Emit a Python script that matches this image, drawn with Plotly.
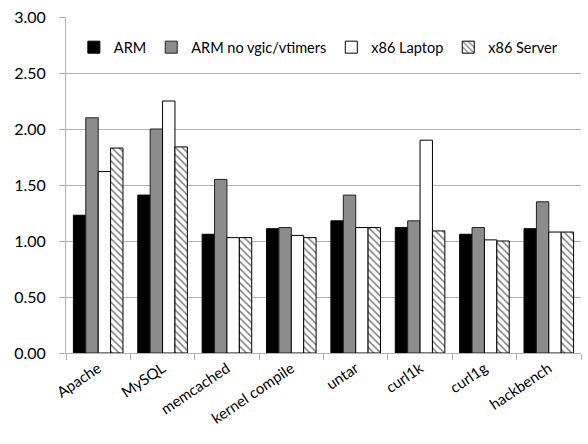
import plotly.graph_objects as go

categories = ["Apache", "MySQL", "memcached", "kernel compile", "untar", "curl1k", "curl1g", "hackbench"]
arm = [1.23, 1.41, 1.06, 1.11, 1.18, 1.12, 1.06, 1.11]
arm_no_vgic = [2.10, 2.00, 1.55, 1.12, 1.41, 1.18, 1.12, 1.35]
x86_laptop = [1.62, 2.25, 1.03, 1.05, 1.12, 1.90, 1.01, 1.08]
x86_server = [1.83, 1.84, 1.03, 1.03, 1.12, 1.09, 1.00, 1.08]
y_ticks = [0, 0.5, 1.0, 1.5, 2.0, 2.5, 3.0]

FONT = "Lato"
fig = go.Figure()
fig.add_bar(name="ARM", x=categories, y=arm,
            marker=dict(color="#000000", line=dict(color="#000000", width=1)))
fig.add_bar(name="ARM no vgic/vtimers", x=categories, y=arm_no_vgic,
            marker=dict(color="#8c8c8c", line=dict(color="#222222", width=1)))
fig.add_bar(name="x86 Laptop", x=categories, y=x86_laptop,
            marker=dict(color="#ffffff", line=dict(color="#000000", width=1)))
fig.add_bar(name="x86 Server", x=categories, y=x86_server,
            marker=dict(color="#ffffff", line=dict(color="#000000", width=1),
                        pattern=dict(shape="\\", fgcolor="#000000", bgcolor="#ffffff",
                                     size=5, solidity=0.3)))

fig.update_layout(
    width=588, height=444,
    margin=dict(l=66, r=7, t=14, b=91),
    paper_bgcolor="white", plot_bgcolor="white",
    barmode="group", bargap=0.23, bargroupgap=0,
    font=dict(family=FONT, color="#000000"),
    showlegend=True,
    legend=dict(orientation="h", xref="paper", x=0.49, xanchor="center",
                yref="paper", y=0.91, yanchor="middle",
                font=dict(family=FONT, size=14.5, color="#000000"),
                bgcolor="rgba(0,0,0,0)", traceorder="normal",
                itemwidth=30),
    xaxis=dict(type="category", showline=True, linecolor="#b3b3b3", linewidth=1,
               ticks="outside", tickson="boundaries", ticklen=6, tickcolor="#b3b3b3",
               tickangle=-34, tickfont=dict(family=FONT, size=15, color="#000000"),
               showgrid=False),
    yaxis=dict(range=[0, 3], tickvals=y_ticks, tickformat=".2f",
               showline=True, linecolor="#b3b3b3", linewidth=1,
               ticks="outside", ticklen=6, tickcolor="#b3b3b3",
               showgrid=True, gridcolor="#b3b3b3", gridwidth=1,
               zeroline=False, ticklabelstandoff=10,
               tickfont=dict(family=FONT, size=16, color="#000000")),
)

fig.write_html("out.html")
